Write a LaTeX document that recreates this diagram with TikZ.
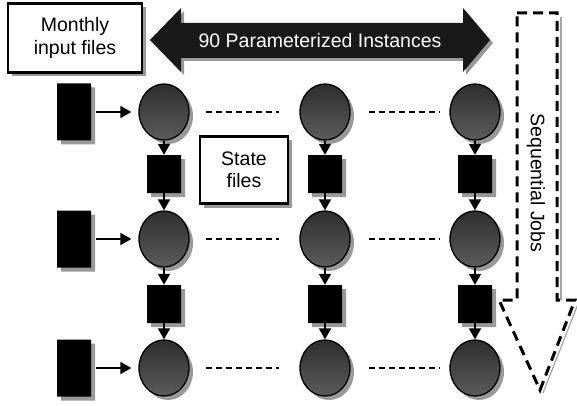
\documentclass[tikz,border=0pt]{standalone}
\usepackage{fontspec}
\setmainfont{Liberation Sans}
\usetikzlibrary{arrows.meta,shapes.geometric,shapes.misc,shadows}

\tikzset{
  shd/.style={drop shadow={shadow xshift=4pt,shadow yshift=-4pt,fill=black!40,opacity=1}},
  job/.style={ellipse,draw=black,line width=1.3pt,minimum width=50pt,minimum height=56pt,
              inner sep=0pt,top color=black!82,bottom color=black!64,shd},
  infile/.style={chamfered rectangle,chamfered rectangle corners=south east,
              chamfered rectangle xsep=4pt,chamfered rectangle ysep=4pt,
              fill=black,draw=none,minimum width=34pt,minimum height=57pt,inner sep=0pt,shd},
  statefile/.style={infile,minimum width=34pt,minimum height=38pt},
  labelbox/.style={rectangle,draw=black,line width=2.8pt,fill=white,align=center,
              inner sep=0pt,shd,font=\fontsize{19.5}{22.5}\selectfont},
  flow/.style={line width=1.9pt,-{Triangle[length=11pt,width=12pt]}},
  gap/.style={line width=1.4pt,dash pattern=on 6pt off 4pt},
  seqline/.style={line width=3pt,dash pattern=on 10pt off 6pt,line join=miter}
}

\begin{document}
\begin{tikzpicture}[x=1pt,y=-1pt]
  \useasboundingbox (0,0) rectangle (577,406);

  % top double arrow with its label
  \fill[black!40,shift={(3,3)}]
    (150,40) -- (181,8) -- (181,23) -- (463,23) -- (463,8) -- (490,40)
    -- (463,72) -- (463,58) -- (181,58) -- (181,72) -- cycle;
  \fill[black!90]
    (150,40) -- (181,8) -- (181,23) -- (463,23) -- (463,8) -- (490,40)
    -- (463,72) -- (463,58) -- (181,58) -- (181,72) -- cycle;
  \node[text=white,font=\fontsize{19.5}{22.5}\selectfont] (inst) at (320,41)
    {90 Parameterized Instances};

  % label boxes
  \node[labelbox,minimum width=134pt,minimum height=69pt] (monthly) at (75,38)
    {Monthly\\input files};
  \node[labelbox,minimum width=88pt,minimum height=67pt] (state) at (244,170)
    {State\\files};

  % sequential jobs block arrow (dashed outline)
  \draw[black!35,line width=1.2pt] (561,17) -- (561,300);
  \draw[black!35,line width=1.2pt] (578,304) -- (543,393);
  \draw[seqline]
    (517,13) -- (557,13) -- (557,300) -- (575,300) -- (540,390)
    -- (499,300) -- (517,300) -- cycle;
  \node[rotate=-90,font=\fontsize{19.5}{22.5}\selectfont] (seq) at (536,183)
    {Sequential Jobs};

  % jobs, input files and state files
  \foreach \r/\y in {1/112,2/239,3/368}{
    \node[infile] (d\r) at (74,\y) {};
    \node[job] (c\r1) at (164,\y) {};
    \node[job] (c\r2) at (325,\y) {};
    \node[job] (c\r3) at (475,\y) {};
  }
  \foreach \r/\y in {1/174,2/304}{
    \node[statefile] (s\r1) at (164,\y) {};
    \node[statefile] (s\r2) at (325,\y) {};
    \node[statefile] (s\r3) at (475,\y) {};
  }

  % connectors
  \foreach \r in {1,2,3}{
    \draw[flow,shorten <=5pt,shorten >=7pt] (d\r) -- (c\r1);
    \draw[gap] ([xshift=16pt]c\r1.east) -- ([xshift=-20pt]c\r2.west);
    \draw[gap] ([xshift=18pt]c\r2.east) -- ([xshift=-10pt]c\r3.west);
  }
  \foreach \c in {1,2,3}{
    \draw[flow] (c1\c) -- (s1\c);
    \draw[flow] (s1\c) -- (c2\c);
    \draw[flow] (c2\c) -- (s2\c);
    \draw[flow] (s2\c) -- (c3\c);
  }
\end{tikzpicture}
\end{document}
